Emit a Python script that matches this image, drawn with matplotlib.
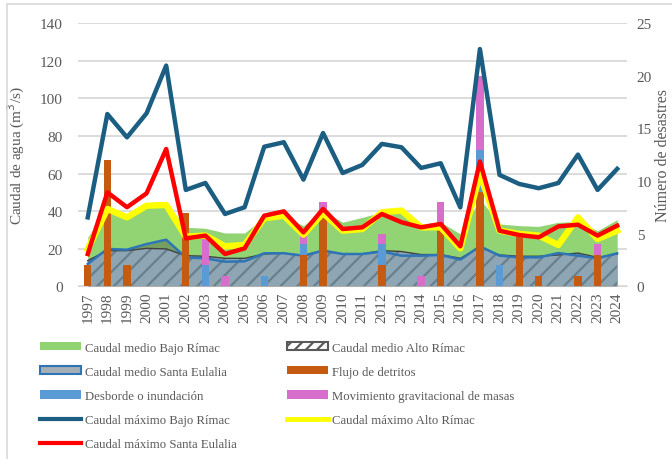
import matplotlib
matplotlib.use("Agg")
import matplotlib.pyplot as plt
from matplotlib.patches import Patch, Rectangle
from matplotlib.lines import Line2D
import numpy as np

years = list(range(1997, 2025))

# caudales (m3/s)
bajo_medio = [26.1, 42.1, 38.0, 43.8, 44.4, 31.4, 30.9, 28.4, 28.4, 36.7, 37.3, 32.3, 40.3, 34.1,
              36.7, 39.4, 40.3, 33.2, 34.1, 27.9, 46.5, 33.2, 32.3, 31.9, 34.1, 34.4, 29.6, 35.5]
alto_medio = [13.7, 19.0, 19.0, 20.2, 19.9, 16.3, 16.0, 14.9, 14.9, 17.2, 17.6, 16.3, 19.0, 17.2,
              17.2, 19.0, 18.5, 16.9, 16.9, 14.9, 20.8, 16.7, 16.0, 16.0, 16.7, 17.7, 15.4, 17.2]
se_medio = [11.9, 19.9, 19.5, 22.5, 24.8, 15.4, 14.9, 13.1, 13.3, 17.6, 17.6, 16.3, 19.0, 17.2,
            17.2, 18.5, 16.3, 16.3, 16.7, 14.2, 21.3, 16.3, 15.4, 15.4, 17.7, 16.3, 14.9, 17.6]
bajo_max = [36.7, 91.7, 79.3, 92.1, 117.5, 51.3, 55.0, 38.5, 42.1, 74.3, 76.7, 56.8, 81.6, 60.3,
            64.6, 75.8, 74.0, 63.0, 65.5, 42.0, 126.3, 59.3, 54.5, 52.2, 55.0, 70.1, 51.3, 62.5]
alto_max = [19.9, 41.2, 36.7, 42.9, 43.3, 26.4, 27.0, 21.3, 22.0, 36.2, 37.6, 27.5, 39.0, 29.6,
            30.5, 39.4, 40.3, 31.4, 31.4, 20.2, 59.8, 29.6, 27.9, 27.0, 22.0, 36.7, 25.2, 29.6]
se_max = [17.2, 50.0, 42.1, 49.5, 73.1, 25.5, 27.0, 17.2, 20.2, 37.6, 39.9, 28.7, 41.2, 30.5,
          31.4, 38.5, 34.1, 31.4, 33.2, 21.3, 66.4, 29.6, 27.3, 26.1, 31.9, 32.8, 27.0, 32.3]

# numero de desastres
flujo = [2, 12, 2, 0, 0, 7, 0, 0, 0, 0, 0, 3, 7, 0, 0, 2, 0, 0, 6, 0, 9, 0, 5, 1, 0, 1, 3, 0]
desborde = [0, 0, 0, 0, 0, 0, 2, 0, 0, 1, 0, 1, 0, 0, 0, 2, 0, 0, 0, 0, 4, 2, 0, 0, 0, 0, 0, 0]
movimiento = [0, 0, 0, 0, 0, 0, 3, 1, 0, 0, 0, 1, 1, 0, 0, 1, 0, 1, 2, 0, 7, 0, 0, 0, 0, 0, 1, 0]

plt.rcParams['font.family'] = ['Liberation Serif', 'DejaVu Serif']
plt.rcParams['hatch.linewidth'] = 1.6
gris = '#595959'

c_verde = '#92D373'
c_alto = '#8EA6B4'
c_hatch = '#6A7F8C'
c_se = '#2E75B6'
c_flujo = '#C55A11'
c_desb = '#5B9BD5'
c_mov = '#D86ECC'
c_bmax = '#1B5E82'
c_amax = '#FFFF00'
c_smax = '#FF0000'

fig = plt.figure(figsize=(6.72, 4.6), dpi=100)
ax = fig.add_axes([0.116, 0.3754, 0.817, 0.5718])

x = np.array(years)

# areas
ax.fill_between(x, 0, bajo_medio, color=c_verde, lw=0, zorder=2)
ax.fill_between(x, 0, se_medio, color='#404040', alpha=0.35, lw=0, zorder=3)
ax.fill_between(x, 0, alto_medio, facecolor=c_alto, edgecolor=c_hatch, hatch='//', lw=0, zorder=4)
ax.plot(x, alto_medio, color='#404040', lw=1.0, zorder=5)
ax.plot(x, se_medio, color=c_se, lw=1.8, zorder=6)

ax.set_xlim(1996.5, 2024.5)
ax.set_ylim(0, 140)
ax.set_yticks(range(0, 141, 20))
ax.set_xticks(years)
ax.set_xticklabels([str(y) for y in years], rotation=90)
ax.yaxis.grid(True, color='#D9D9D9', lw=1.3, zorder=0)
ax.set_axisbelow(True)
for s in ['top', 'left', 'right']:
    ax.spines[s].set_visible(False)
ax.spines['bottom'].set_color('#D9D9D9')
ax.tick_params(axis='both', length=0, labelsize=11, colors=gris)
ax.tick_params(axis='y', pad=11)
ax.tick_params(axis='x', pad=4)
ax.set_ylabel('Caudal de agua (m$^3$/s)', fontsize=11, color=gris, labelpad=9)

# barras (eje derecho)
ax2 = ax.twinx()
w = 0.37
ax2.bar(x, flujo, width=w, color=c_flujo, zorder=3)
ax2.bar(x, desborde, width=w, bottom=flujo, color=c_desb, zorder=3)
base2 = np.array(flujo) + np.array(desborde)
ax2.bar(x, movimiento, width=w, bottom=base2, color=c_mov, zorder=3)
ax2.set_ylim(0, 25)
ax2.set_yticks(range(0, 26, 5))
for s in ['top', 'left', 'right', 'bottom']:
    ax2.spines[s].set_visible(False)
ax2.tick_params(axis='y', length=0, labelsize=11, colors=gris, pad=7)
ax2.set_ylabel('Número de desastres', fontsize=11.5, color=gris, labelpad=2)

# lineas de caudal maximo
ax3 = ax.twinx()
ax3.set_ylim(0, 140)
ax3.set_xlim(1996.5, 2024.5)
ax3.axis('off')
ax3.plot(x, bajo_max, color=c_bmax, lw=3.2, solid_joinstyle='round')
ax3.plot(x, alto_max, color=c_amax, lw=4.6, solid_joinstyle='round')
ax3.plot(x, se_max, color=c_smax, lw=3.2, solid_joinstyle='round')

handles = [
    Patch(facecolor=c_verde, edgecolor='none', label='Caudal medio Bajo Rímac'),
    Patch(facecolor='#A5AFB6', edgecolor=c_se, lw=1.5, label='Caudal medio Santa Eulalia'),
    Patch(facecolor=c_desb, edgecolor='none', label='Desborde o inundación'),
    Line2D([], [], color=c_bmax, lw=3, label='Caudal máximo Bajo Rímac'),
    Line2D([], [], color=c_smax, lw=3, label='Caudal máximo Santa Eulalia'),
    Patch(facecolor='white', edgecolor='#595959', hatch='///', lw=1.5, label='Caudal medio Alto Rímac'),
    Patch(facecolor=c_flujo, edgecolor='none', label='Flujo de detritos'),
    Patch(facecolor=c_mov, edgecolor='none', label='Movimiento gravitacional de masas'),
    Line2D([], [], color=c_amax, lw=3.5, label='Caudal máximo Alto Rímac'),
]
leg = fig.legend(handles=handles, loc='upper left', bbox_to_anchor=(0.052, 0.266), ncol=2,
                 frameon=False, fontsize=9.2, handlelength=3.2, handleheight=0.6,
                 handletextpad=0.3, labelspacing=0.95, columnspacing=3.95, borderaxespad=0)
for t in leg.get_texts():
    t.set_color(gris)

# borde del grafico
fig.patches.append(Rectangle((7 / 672, -0.1), 1.2, 1.1 - 5 / 460, transform=fig.transFigure,
                             fill=False, edgecolor='#D9D9D9', lw=1.2))

fig.savefig('out.png', dpi=100)
